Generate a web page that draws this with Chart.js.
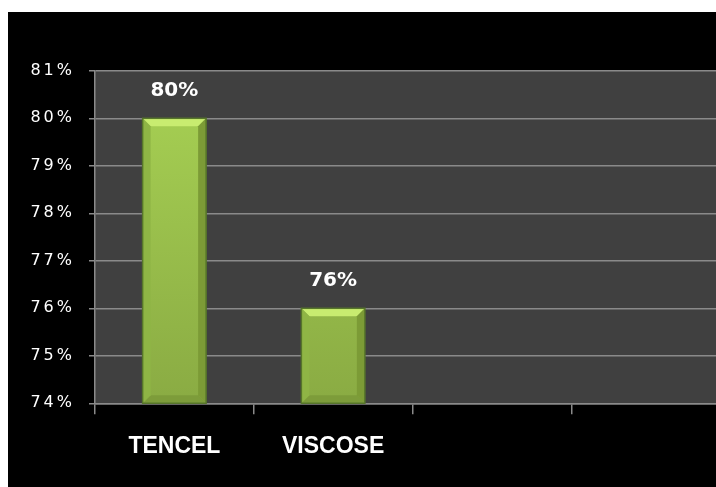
<!DOCTYPE html>
<html>
<head>
<meta charset="utf-8">
<script src="https://cdn.jsdelivr.net/npm/chart.js@4/dist/chart.umd.min.js"></script>
<style>
  html, body { margin: 0; padding: 0; background: #fff; overflow: hidden; width: 716px; height: 487px; }
  #chart { position: absolute; left: 8px; top: 12px; background: #000; }
</style>
</head>
<body>
<canvas id="chart" width="740" height="475"></canvas>
<script>
const categories = ['TENCEL', 'VISCOSE', '', ''];
const values = [80, 76, null, null];
const yMin = 74;
const yMax = 81;

const gridGray = '#8a8a8a';

// dark plot background
const plotBg = {
  id: 'plotBg',
  beforeDraw(chart) {
    const { ctx, chartArea: a } = chart;
    ctx.letterSpacing = '0px';
    ctx.save();
    ctx.fillStyle = '#404040';
    ctx.fillRect(a.left, a.top, a.right - a.left, a.bottom - a.top);
    ctx.restore();
  },
  afterDraw(chart) {
    chart.ctx.letterSpacing = '0px';
  }
};

// bevelled bars and the value labels above them
const bevel = {
  id: 'bevel',
  afterDatasetsDraw(chart) {
    const ctx = chart.ctx;
    const meta = chart.getDatasetMeta(0);
    meta.data.forEach((bar, i) => {
      const v = values[i];
      if (v == null) return;
      const p = bar.getProps(['x', 'y', 'base', 'width'], true);
      const x = p.x, y = p.y, width = p.width;
      const base = Math.min(p.base, chart.chartArea.bottom);
      const l = x - width / 2, r = x + width / 2, b = 8;
      const poly = (pts, c) => {
        ctx.beginPath();
        ctx.moveTo(pts[0][0], pts[0][1]);
        pts.slice(1).forEach(q => ctx.lineTo(q[0], q[1]));
        ctx.closePath();
        ctx.fillStyle = c;
        ctx.fill();
      };
      ctx.save();
      poly([[l, y], [r, y], [r - b, y + b], [l + b, y + b]], '#c8ec70');
      poly([[l, base], [r, base], [r - b, base - b], [l + b, base - b]], '#7d9c3a');
      poly([[l, y], [l + b, y + b], [l + b, base - b], [l, base]], '#8fb545');
      poly([[r, y], [r - b, y + b], [r - b, base - b], [r, base]], '#7c9b36');
      ctx.strokeStyle = '#56752a';
      ctx.lineWidth = 1.5;
      ctx.strokeRect(l, y, width, base - y);
      ctx.letterSpacing = '0px';
      ctx.fillStyle = '#ffffff';
      ctx.font = 'bold 20px "DejaVu Sans"';
      ctx.textAlign = 'center';
      ctx.textBaseline = 'middle';
      ctx.fillText(v + '%', x, y - 28);
      ctx.restore();
    });
    // y labels are drawn after the datasets (ticks z: 1), spaced out
    ctx.letterSpacing = '3px';
  }
};

new Chart(document.getElementById('chart'), {
  type: 'bar',
  data: {
    labels: categories,
    datasets: [{
      data: values,
      backgroundColor: (c) => {
        const area = c.chart.chartArea;
        if (!area) return '#9cc54c';
        const g = c.chart.ctx.createLinearGradient(0, area.top, 0, area.bottom);
        g.addColorStop(0, '#a8d254');
        g.addColorStop(1, '#8aab43');
        return g;
      },
      borderWidth: 0,
      barPercentage: 0.4,
      categoryPercentage: 1.0
    }]
  },
  options: {
    responsive: false,
    animation: false,
    layout: { padding: { top: 58.8, right: 18, left: 0, bottom: 0 } },
    plugins: {
      legend: { display: false },
      tooltip: { enabled: false }
    },
    scales: {
      x: {
        afterFit: (s) => { s.height = 83.7; },
        grid: {
          offset: true,
          drawOnChartArea: false,
          drawTicks: true,
          tickLength: 11,
          color: gridGray,
          lineWidth: 1.5
        },
        border: { color: gridGray, width: 1.5 },
        ticks: {
          color: '#ffffff',
          padding: 19,
          font: { family: '"Liberation Sans"', size: 23, weight: 'bold' }
        }
      },
      y: {
        min: yMin,
        max: yMax,
        afterFit: (s) => { s.width = 87; },
        grid: {
          color: gridGray,
          lineWidth: 1.5,
          tickLength: 6
        },
        border: { color: gridGray, width: 1.5 },
        ticks: {
          stepSize: 1,
          z: 1,
          color: '#ffffff',
          padding: 14,
          font: { family: '"DejaVu Sans"', size: 16 },
          callback: (v) => v + '%'
        }
      }
    }
  },
  plugins: [plotBg, bevel]
});
</script>
</body>
</html>
